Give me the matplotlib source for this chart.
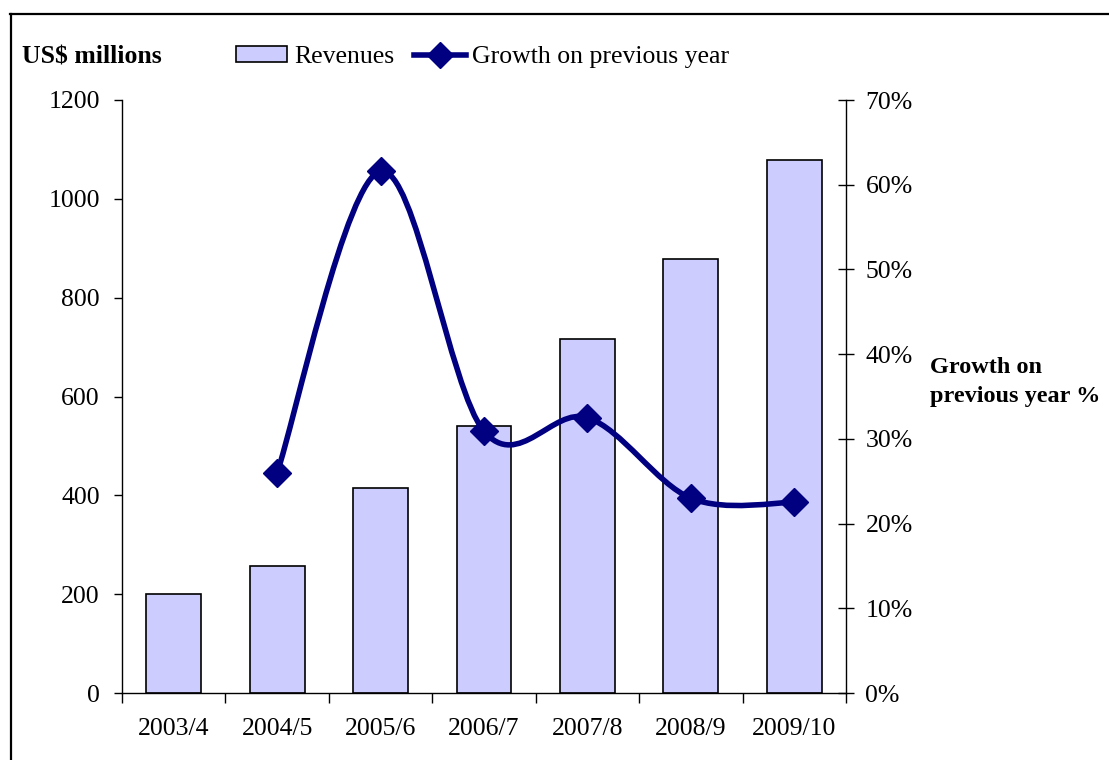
import numpy as np
import matplotlib
matplotlib.use("Agg")
import matplotlib.pyplot as plt
from matplotlib.path import Path
from matplotlib.patches import PathPatch
from matplotlib.lines import Line2D
from matplotlib.patches import Patch

categories = ["2003/4", "2004/5", "2005/6", "2006/7", "2007/8", "2008/9", "2009/10"]
revenues = [200, 256, 415, 540, 716, 878, 1078]
growth = [None, 26.0, 61.6, 30.9, 32.5, 23.0, 22.5]

left_ticks = [0, 200, 400, 600, 800, 1000, 1200]
right_ticks = [0, 10, 20, 30, 40, 50, 60, 70]

BAR = "#CCCCFF"
NAVY = "#000080"
FS = 18.5
plt.rcParams["font.family"] = ["Liberation Serif", "DejaVu Serif"]

W, H = 1109, 760
fig = plt.figure(figsize=(W / 100, H / 100), dpi=100)

# outer frame (top and left edges visible)
fig.add_artist(Line2D([10 / W, 1.0], [1 - 14 / H, 1 - 14 / H], color="black", lw=1.6, transform=fig.transFigure))
fig.add_artist(Line2D([11 / W, 11 / W], [0, 1 - 14 / H], color="black", lw=1.6, transform=fig.transFigure))

ax = fig.add_axes([122 / W, 1 - 693 / H, (846 - 122) / W, (693 - 100) / H])
x = np.arange(len(categories))
ax.bar(x, revenues, width=0.53, color=BAR, edgecolor="black", linewidth=1.2, zorder=2)
ax.set_xlim(-0.5, len(categories) - 0.5)
ax.set_ylim(0, 1200)
ax.set_yticks(left_ticks)
ax.set_yticklabels([str(v) for v in left_ticks], fontsize=FS)
ax.tick_params(axis="y", direction="out", length=6, width=1, pad=10)
ax.set_xticks(np.arange(-0.5, len(categories), 1.0))
ax.set_xticklabels([])
ax.tick_params(axis="x", which="major", direction="out", length=7, width=1)
ax.set_xticks(x, minor=True)
ax.set_xticklabels(categories, minor=True, fontsize=FS)
ax.tick_params(axis="x", which="minor", length=0, pad=18)
for s in ["top", "right"]:
    ax.spines[s].set_visible(False)
ax.spines["left"].set_linewidth(1)
ax.spines["bottom"].set_linewidth(1)

ax2 = ax.twinx()
ax2.set_ylim(0, 70)
ax2.set_yticks(right_ticks)
ax2.set_yticklabels([f"{v}%" for v in right_ticks], fontsize=FS)
ax2.tick_params(axis="y", direction="inout", length=12, width=1, pad=8)
for s in ["top", "left", "bottom"]:
    ax2.spines[s].set_visible(False)
ax2.spines["right"].set_linewidth(1)

# smoothed line (Excel-like Bezier smoothing)
gx = [i for i, g in enumerate(growth) if g is not None]
gy = [g for g in growth if g is not None]
pts = np.column_stack([gx, gy]).astype(float)
n = len(pts)
verts = [pts[0]]
codes = [Path.MOVETO]
for i in range(n - 1):
    p0 = pts[i - 1] if i > 0 else pts[i]
    p1 = pts[i]
    p2 = pts[i + 1]
    p3 = pts[i + 2] if i + 2 < n else pts[i + 1]
    c1 = p1 + (p2 - p0) / 6.0
    c2 = p2 - (p3 - p1) / 6.0
    verts += [c1, c2, p2]
    codes += [Path.CURVE4] * 3
ax2.add_patch(PathPatch(Path(verts, codes), facecolor="none", edgecolor=NAVY, lw=4, zorder=3))
ax2.plot(gx, gy, linestyle="none", marker="D", markersize=14, color=NAVY, zorder=4)

fig.text(22 / W, 1 - 57 / H, "US$ millions", fontsize=FS, fontweight="bold", va="center", ha="left")
fig.text(930 / W, 1 - 382 / H, "Growth on\nprevious year %", fontsize=17.5, fontweight="bold",
         va="center", ha="left", linespacing=1.55)

handles = [Patch(facecolor=BAR, edgecolor="black", linewidth=1.2),
           Line2D([], [], color=NAVY, lw=4, marker="D", markersize=13)]
fig.legend(handles, ["Revenues", "Growth on previous year"], ncol=2, frameon=False,
           loc="center left", bbox_to_anchor=(236 / W, 1 - 57 / H), fontsize=FS,
           handlelength=2.0, handleheight=0.55, handletextpad=0.25, columnspacing=0.8,
           borderpad=0, borderaxespad=0)

fig.savefig("out.png", dpi=100)
